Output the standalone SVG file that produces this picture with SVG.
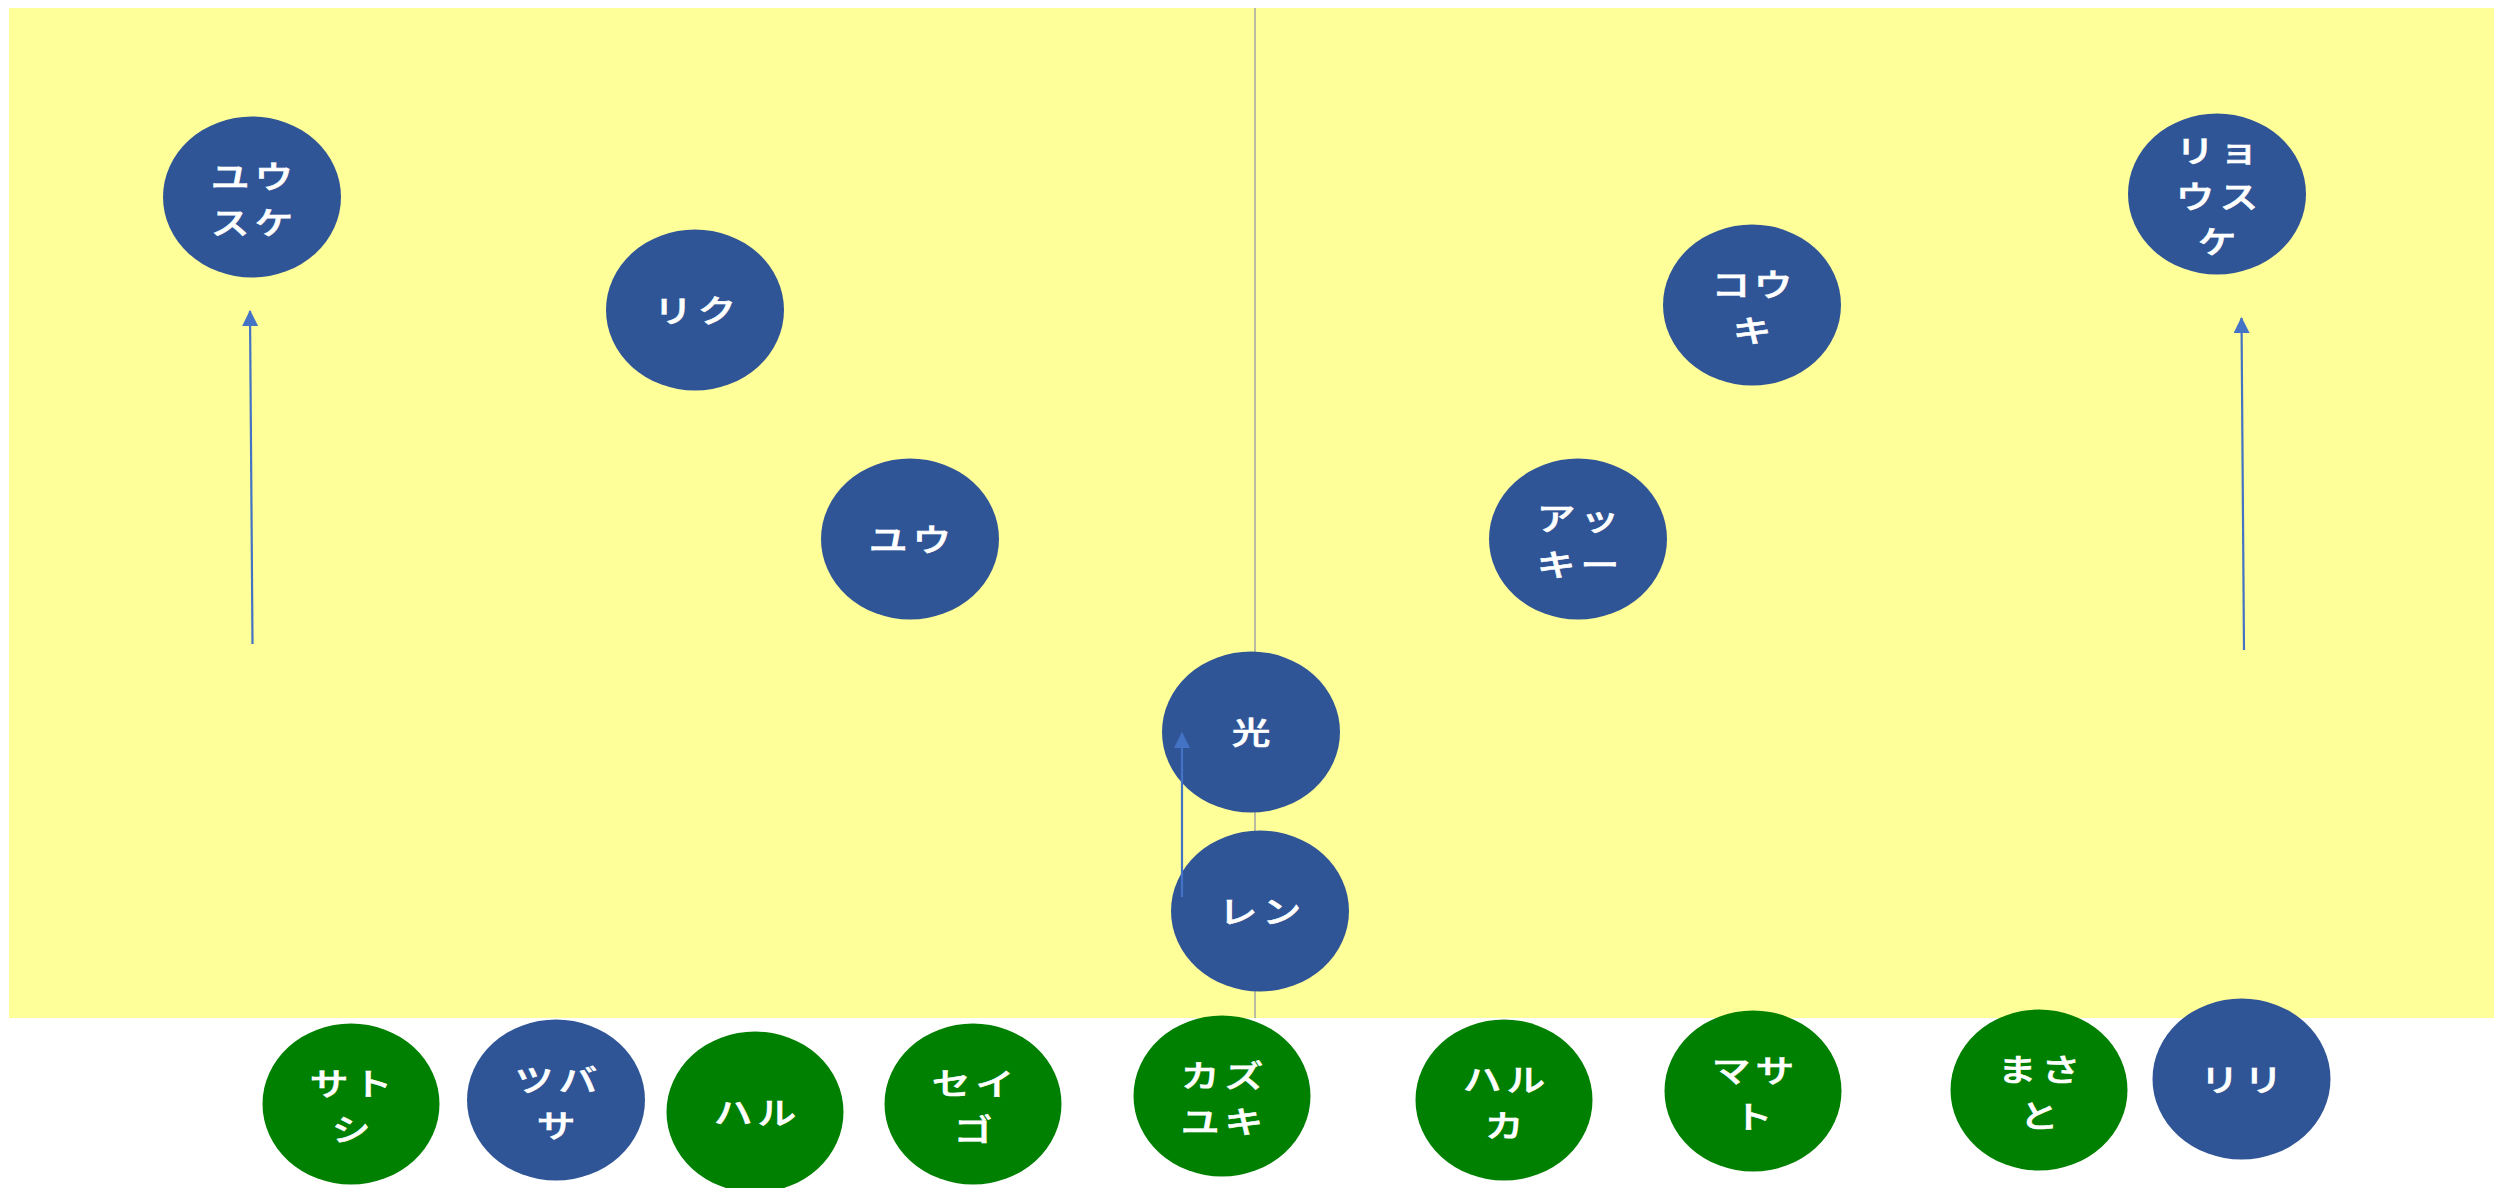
<svg xmlns="http://www.w3.org/2000/svg" width="2494" height="1188" viewBox="0 0 2494 1188">
<style>
.bg{fill:#FFFF99}
.b{fill:#2F5597}
.g{fill:#008000}
.t{fill:#FFFFFF;font-family:"Noto Sans CJK JP","Noto Sans CJK SC",sans-serif;font-size:31px;font-weight:500;letter-spacing:4px;text-anchor:middle;dominant-baseline:central;stroke:#FFFFFF;stroke-width:0.6px}
.div{stroke:#A5A5A5;stroke-width:1.5;fill:none}
.arr{stroke:#4472C4;stroke-width:2.2;fill:none;marker-end:url(#ah)}
</style>
<defs>
<marker id="ah" markerUnits="userSpaceOnUse" markerWidth="16" markerHeight="18" refX="15" refY="8" orient="auto">
<path d="M0,0 L16,8 L0,16 Z" fill="#4472C4"/>
</marker>
</defs>
<rect class="bg" x="9" y="8" width="2485" height="1010"/>
<g id="divider"><line class="div" x1="1255" y1="8" x2="1255" y2="1018"/></g>
<g id="n1"><ellipse class="b" cx="252" cy="197" rx="89" ry="80.5"/><text class="t" transform="translate(252,197) scale(1.25,1)"><tspan x="2" y="-23">ユウ</tspan><tspan x="2" y="22.5">スケ</tspan></text></g>
<g id="n2"><ellipse class="b" cx="695" cy="310" rx="89" ry="80.5"/><text class="t" transform="translate(695,310) scale(1.25,1)"><tspan x="2" y="-2">リク</tspan></text></g>
<g id="n3"><ellipse class="b" cx="910" cy="539" rx="89" ry="80.5"/><text class="t" transform="translate(910,539) scale(1.25,1)"><tspan x="2" y="-2">ユウ</tspan></text></g>
<g id="n4"><ellipse class="b" cx="1752" cy="305" rx="89" ry="80.5"/><text class="t" transform="translate(1752,305) scale(1.25,1)"><tspan x="2" y="-23">コウ</tspan><tspan x="2" y="22.5">キ</tspan></text></g>
<g id="n5"><ellipse class="b" cx="2217" cy="194" rx="89" ry="80.5"/><text class="t" transform="translate(2217,194) scale(1.25,1)"><tspan x="2" y="-46">リョ</tspan><tspan x="2" y="-0.5">ウス</tspan><tspan x="2" y="45">ケ</tspan></text></g>
<g id="n6"><ellipse class="b" cx="1578" cy="539" rx="89" ry="80.5"/><text class="t" transform="translate(1578,539) scale(1.25,1)"><tspan x="2" y="-23">アッ</tspan><tspan x="2" y="22.5">キー</tspan></text></g>
<g id="n7"><ellipse class="b" cx="1251" cy="732" rx="89" ry="80.5"/><text class="t" transform="translate(1251,732) scale(1.25,1)"><tspan x="2" y="-2">光</tspan></text></g>
<g id="n8"><ellipse class="b" cx="1260" cy="911" rx="89" ry="80.5"/><text class="t" transform="translate(1260,911) scale(1.25,1)"><tspan x="2" y="-2">レン</tspan></text></g>
<g id="n9"><ellipse class="g" cx="351" cy="1104" rx="88.5" ry="80.5"/><text class="t" transform="translate(351,1104) scale(1.25,1)"><tspan x="2" y="-23">サト</tspan><tspan x="2" y="22.5">シ</tspan></text></g>
<g id="n10"><ellipse class="b" cx="556" cy="1100" rx="89" ry="80.5"/><text class="t" transform="translate(556,1100) scale(1.25,1)"><tspan x="2" y="-23">ツバ</tspan><tspan x="2" y="22.5">サ</tspan></text></g>
<g id="n11"><ellipse class="g" cx="755" cy="1112" rx="88.5" ry="80.5"/><text class="t" transform="translate(755,1112) scale(1.25,1)"><tspan x="2" y="-2">ハル</tspan></text></g>
<g id="n12"><ellipse class="g" cx="973" cy="1104" rx="88.5" ry="80.5"/><text class="t" transform="translate(973,1104) scale(1.25,1)"><tspan x="2" y="-23">セイ</tspan><tspan x="2" y="22.5">ゴ</tspan></text></g>
<g id="n13"><ellipse class="g" cx="1222" cy="1096" rx="88.5" ry="80.5"/><text class="t" transform="translate(1222,1096) scale(1.25,1)"><tspan x="2" y="-23">カズ</tspan><tspan x="2" y="22.5">ユキ</tspan></text></g>
<g id="n14"><ellipse class="g" cx="1504" cy="1100" rx="88.5" ry="80.5"/><text class="t" transform="translate(1504,1100) scale(1.25,1)"><tspan x="2" y="-23">ハル</tspan><tspan x="2" y="22.5">カ</tspan></text></g>
<g id="n15"><ellipse class="g" cx="1753" cy="1091" rx="88.5" ry="80.5"/><text class="t" transform="translate(1753,1091) scale(1.25,1)"><tspan x="2" y="-23">マサ</tspan><tspan x="2" y="22.5">ト</tspan></text></g>
<g id="n16"><ellipse class="g" cx="2039" cy="1090" rx="88.5" ry="80.5"/><text class="t" transform="translate(2039,1090) scale(1.25,1)"><tspan x="2" y="-23">まさ</tspan><tspan x="2" y="22.5">と</tspan></text></g>
<g id="n17"><ellipse class="b" cx="2241.5" cy="1079" rx="89" ry="80.5"/><text class="t" transform="translate(2241.5,1079) scale(1.25,1)"><tspan x="2" y="-2">リリ</tspan></text></g>
<g id="connectors">
<line class="arr" x1="252.5" y1="644" x2="250" y2="311"/>
<line class="arr" x1="2244" y1="650" x2="2241.5" y2="318"/>
<line class="arr" x1="1182" y1="897" x2="1182" y2="733"/>
</g>
</svg>
